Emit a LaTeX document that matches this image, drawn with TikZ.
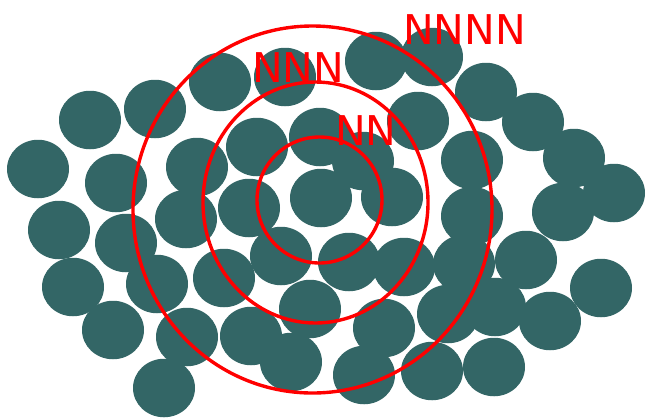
\documentclass[tikz,border=0pt]{standalone}
\usepackage{fontspec}
\newfontfamily\labelfont{DejaVu Sans}
\usetikzlibrary{shapes.geometric}
\definecolor{blobteal}{HTML}{336666}
\definecolor{ringred}{HTML}{FF0000}
\begin{document}
\begin{tikzpicture}[x=1bp,y=-1bp,
  blob/.style={ellipse,fill=blobteal,draw=none,inner sep=0pt,outer sep=0pt,
    minimum width=62bp,minimum height=58.5bp},
  ring/.style={ellipse,draw=ringred,line width=3.4bp,inner sep=0pt,fill=none},
  lbl/.style={text=ringred,inner sep=0pt,anchor=base west,
    font=\labelfont\fontsize{41bp}{49bp}\selectfont}]
\useasboundingbox (0,0) rectangle (646,419);
\foreach \i/\x/\y in {
  1/38/169, 2/90/120, 3/155/109, 4/220/82, 5/285/77, 6/376/61, 7/432/57,
  8/486/92, 9/533/122, 10/574/158, 11/614/193, 12/563/212, 13/472/160,
  14/418/121, 15/320/137, 16/257/147, 17/197/167, 18/116/183, 19/59/230,
  20/126/243, 21/186/219, 22/249/208, 23/321/198, 24/392/197, 25/363/161,
  26/472/216, 27/526/260, 28/601/288, 29/550/321, 30/495/307, 31/464/264,
  32/404/267, 33/349/262, 34/281/256, 35/224/278, 36/157/284, 37/73/287,
  38/113/330, 39/187/337, 40/251/336, 41/310/309, 42/291/362, 43/384/328,
  44/448/314, 45/432/371, 46/364/375, 47/494/367, 48/164/388}
  \node[blob] (b\i) at (\x,\y) {};
\node[ring,minimum width=125bp,minimum height=126bp] (inner) at (319.5,200) {};
\node[ring,minimum width=225bp,minimum height=241bp] (middle) at (315.5,202.5) {};
\node[ring,minimum width=359bp,minimum height=367bp] (outer) at (312.5,209.5) {};
\node[lbl] (t2) at (335,145) {NN};
\node[lbl] (t3) at (252,82) {NNN};
\node[lbl] (t4) at (403,44) {NNNN};
\end{tikzpicture}
\end{document}
